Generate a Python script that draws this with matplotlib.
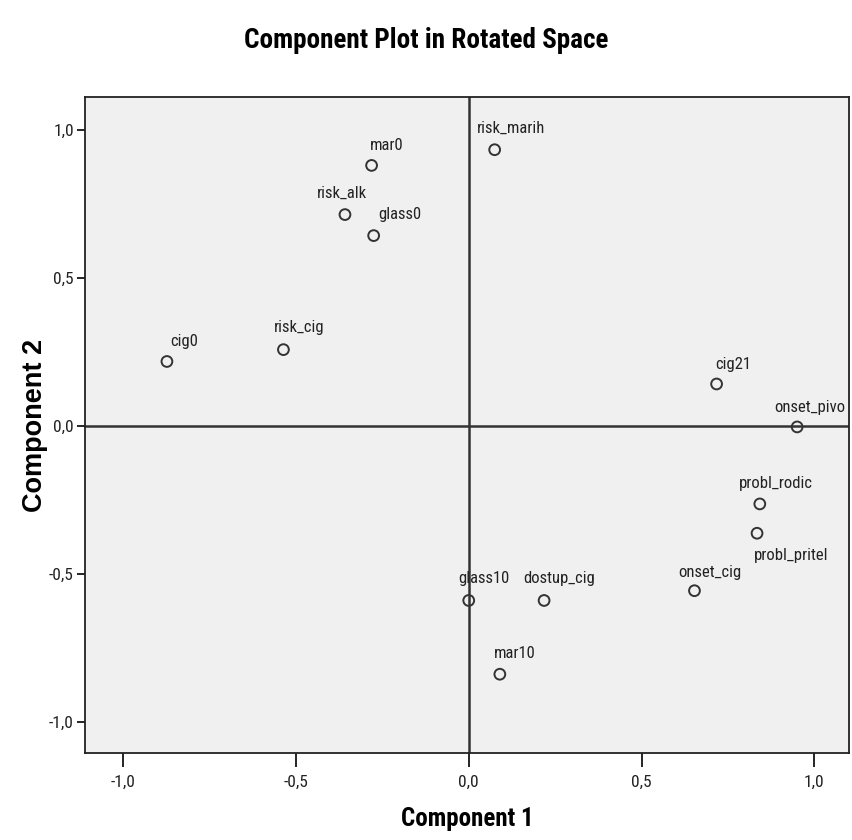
import matplotlib
matplotlib.use("Agg")
import matplotlib.pyplot as plt

# rotated component loadings
names = ["risk_marih", "mar0", "risk_alk", "glass0", "cig0", "risk_cig",
         "cig21", "onset_pivo", "probl_rodic", "probl_pritel", "onset_cig",
         "glass10", "dostup_cig", "mar10"]
comp1 = [0.075, -0.281, -0.358, -0.275, -0.873, -0.536,
         0.717, 0.950, 0.842, 0.834, 0.653,
         0.000, 0.218, 0.090]
comp2 = [0.932, 0.879, 0.713, 0.642, 0.217, 0.257,
         0.141, -0.004, -0.264, -0.363, -0.557,
         -0.590, -0.590, -0.839]

ticks = [-1.0, -0.5, 0.0, 0.5, 1.0]
tick_labels = ["-1,0", "-0,5", "0,0", "0,5", "1,0"]

# label placement around each marker (pixels)
label_offsets = {
    "risk_marih": (-18, 17), "mar0": (-2, 15), "risk_alk": (-28, 17),
    "glass0": (5, 17), "cig0": (3, 15), "risk_cig": (-10, 18),
    "cig21": (-1, 15), "onset_pivo": (-23, 15), "probl_rodic": (-21, 16),
    "probl_pritel": (-3, -27), "onset_cig": (-16, 14), "glass10": (-10, 17),
    "dostup_cig": (-21, 17), "mar10": (-6, 16),
}

narrow = ["Roboto Condensed", "Liberation Sans Narrow", "DejaVu Sans"]

fig = plt.figure(figsize=(8.53, 8.40), dpi=100)
ax = fig.add_axes([85 / 853, 1 - 753 / 840, (849 - 85) / 853, (753 - 97) / 840])
ax.set_facecolor("#f0f0f0")

ax.axhline(0, color="#333333", lw=1.8, zorder=1)
ax.axvline(0, color="#333333", lw=1.8, zorder=1)

ax.scatter(comp1, comp2, s=60, facecolors="none", edgecolors="#333333",
           linewidths=1.4, zorder=3)
for n, x, y in zip(names, comp1, comp2):
    dx, dy = label_offsets[n]
    ax.annotate(n, (x, y), xytext=(dx, dy), textcoords="offset pixels",
                ha="left", va="baseline", fontsize=12, family=narrow,
                fontstretch="condensed", color="#222222", zorder=4)

ax.set_xlim(-1.11, 1.10)
ax.set_ylim(-1.105, 1.11)
ax.set_xticks(ticks, tick_labels)
ax.set_yticks(ticks, tick_labels)
ax.tick_params(axis="x", length=10, width=1.2, pad=6)
ax.tick_params(axis="y", length=6, width=1.2, pad=2)
for lab in ax.get_xticklabels() + ax.get_yticklabels():
    lab.set_family(narrow)
    lab.set_stretch("condensed")
    lab.set_fontsize(12.5)
    lab.set_color("#222222")
for sp in ax.spines.values():
    sp.set_linewidth(1.3)
    sp.set_color("#222222")

ax.set_xlabel("Component 1", family=narrow, fontstretch="condensed",
              fontsize=18, fontweight="bold", labelpad=12)
ax.set_ylabel("Component 2", family=["Liberation Sans", "DejaVu Sans"],
              fontsize=19.5, fontweight="bold", labelpad=1)
fig.text(0.5, 1 - 40 / 840, "Component Plot in Rotated Space", ha="center",
         va="center", family=narrow, fontstretch="condensed", fontsize=19.5,
         fontweight="bold")

fig.savefig("out.png", dpi=100, facecolor="white")
